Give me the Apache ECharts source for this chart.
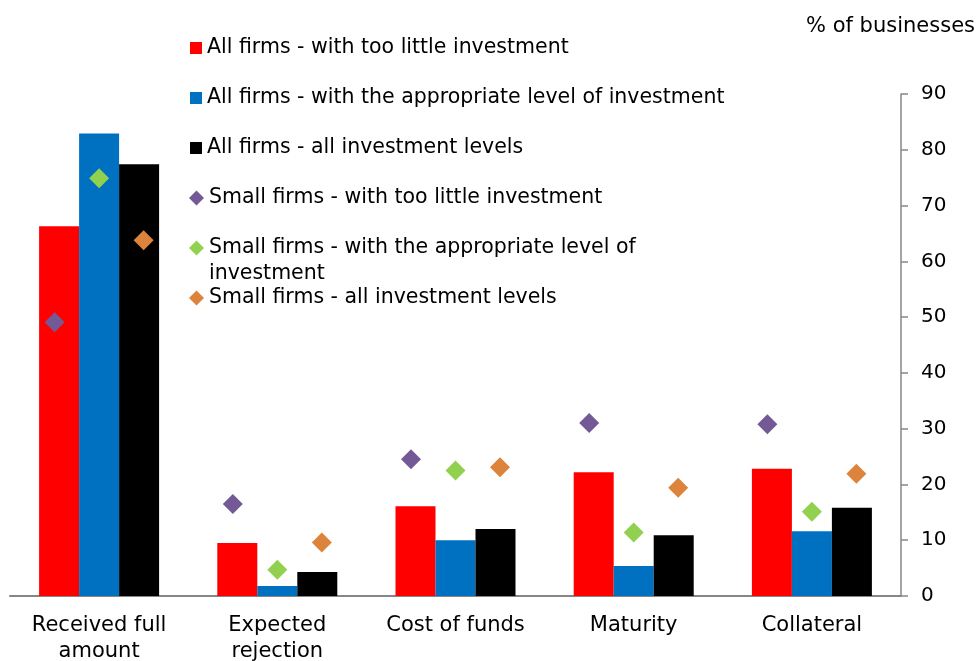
<!DOCTYPE html>
<html>
<head>
<meta charset="utf-8">
<script src="https://cdn.jsdelivr.net/npm/echarts@6/dist/echarts.min.js"></script>
<style>
html, body { margin: 0; padding: 0; background: #fff; }
#chart { width: 979px; height: 661px; }
</style>
</head>
<body>
<div id="chart"></div>
<script>
var categories = ['Received full\namount', 'Expected\nrejection', 'Cost of funds', 'Maturity', 'Collateral'];
var barNames = ['All firms - with too little investment', 'All firms - with the appropriate level of investment', 'All firms - all investment levels'];
var dotNames = ['Small firms - with too little investment', 'Small firms - with the appropriate level of investment', 'Small firms - all investment levels'];
// all firms (bars)
var allTooLittle = [66.3, 9.5, 16.1, 22.2, 22.8];
var allAppropriate = [82.9, 1.8, 10.0, 5.4, 11.6];
var allLevels = [77.4, 4.3, 12.0, 10.9, 15.8];
// small firms (diamonds)
var smallTooLittle = [49.1, 16.5, 24.5, 31.0, 30.8];
var smallAppropriate = [74.9, 4.7, 22.5, 11.4, 15.1];
var smallLevels = [63.8, 9.6, 23.1, 19.4, 21.9];
var yMin = 0, yMax = 90, yStep = 10;

var barColors = ['#ff0000', '#0070c0', '#000000'];
var dotColors = ['#735a96', '#92d050', '#dc843c'];
var font = '"DejaVu Sans", sans-serif';

var myChart = echarts.init(document.getElementById('chart'));

var barData = [allTooLittle, allAppropriate, allLevels];
var dotData = [smallTooLittle, smallAppropriate, smallLevels];
var series = [];
for (var i = 0; i < 3; i++) {
	series.push({
		name: barNames[i],
		type: 'bar',
		barWidth: 40,
		barGap: '0%',
		itemStyle: { color: barColors[i] },
		data: barData[i]
	});
}
for (var j = 0; j < 3; j++) {
	series.push({
		name: dotNames[j],
		type: 'scatter',
		symbol: 'diamond',
		symbolSize: 20,
		symbolOffset: [(j - 1) * 44.5, 0],
		itemStyle: { color: dotColors[j], opacity: 1 },
		data: dotData[j]
	});
}

// one legend per row so the wrapped item keeps the row spacing
var legendNames = barNames.concat(dotNames);
var rowCenters = [48, 98, 148, 198, 248, 298];
var legends = [];
for (var k = 0; k < legendNames.length; k++) {
	var isBar = k < 3;
	var wrapped = k == 4;
	legends.push({
		data: [legendNames[k]],
		left: isBar ? 190 : 189,
		top: wrapped ? rowCenters[k] - 39 : rowCenters[k] - 13,
		padding: 0,
		icon: isBar ? 'rect' : 'diamond',
		itemWidth: isBar ? 12 : 15,
		itemHeight: isBar ? 12 : 15,
		itemGap: 5,
		// leading empty line keeps the first text line level with the icon
		formatter: wrapped ? function (name) {
			return '\n' + name.replace(' of investment', ' of\ninvestment');
		} : null,
		selectedMode: false,
		textStyle: {
			fontSize: 20.5,
			lineHeight: 26,
			color: '#000',
			fontFamily: font
		}
	});
}

var option = {
	animation: false,
	backgroundColor: '#fff',
	title: {
		text: '% of businesses',
		right: 4,
		top: 14,
		padding: 0,
		textStyle: { fontSize: 21, fontWeight: 'normal', color: '#000', fontFamily: font, lineHeight: 26 }
	},
	legend: legends,
	grid: {
		left: 10,
		right: 78,
		top: 94,
		bottom: 65,
		containLabel: false,
		outerBoundsMode: 'none'
	},
	xAxis: {
		type: 'category',
		data: categories,
		axisLine: { lineStyle: { color: '#868686', width: 2 } },
		axisTick: { show: false },
		axisLabel: {
			margin: 17,
			fontSize: 21,
			lineHeight: 26,
			color: '#000',
			fontFamily: font,
			interval: 0
		}
	},
	yAxis: {
		type: 'value',
		position: 'right',
		min: yMin,
		max: yMax,
		interval: yStep,
		axisLine: { show: true, lineStyle: { color: '#868686', width: 1.5 } },
		axisTick: { show: true, length: 7, lineStyle: { color: '#868686', width: 1.5 } },
		axisLabel: { margin: 20, fontSize: 20, color: '#000', fontFamily: font },
		splitLine: { show: false }
	},
	series: series
};
myChart.setOption(option);
</script>
</body>
</html>
